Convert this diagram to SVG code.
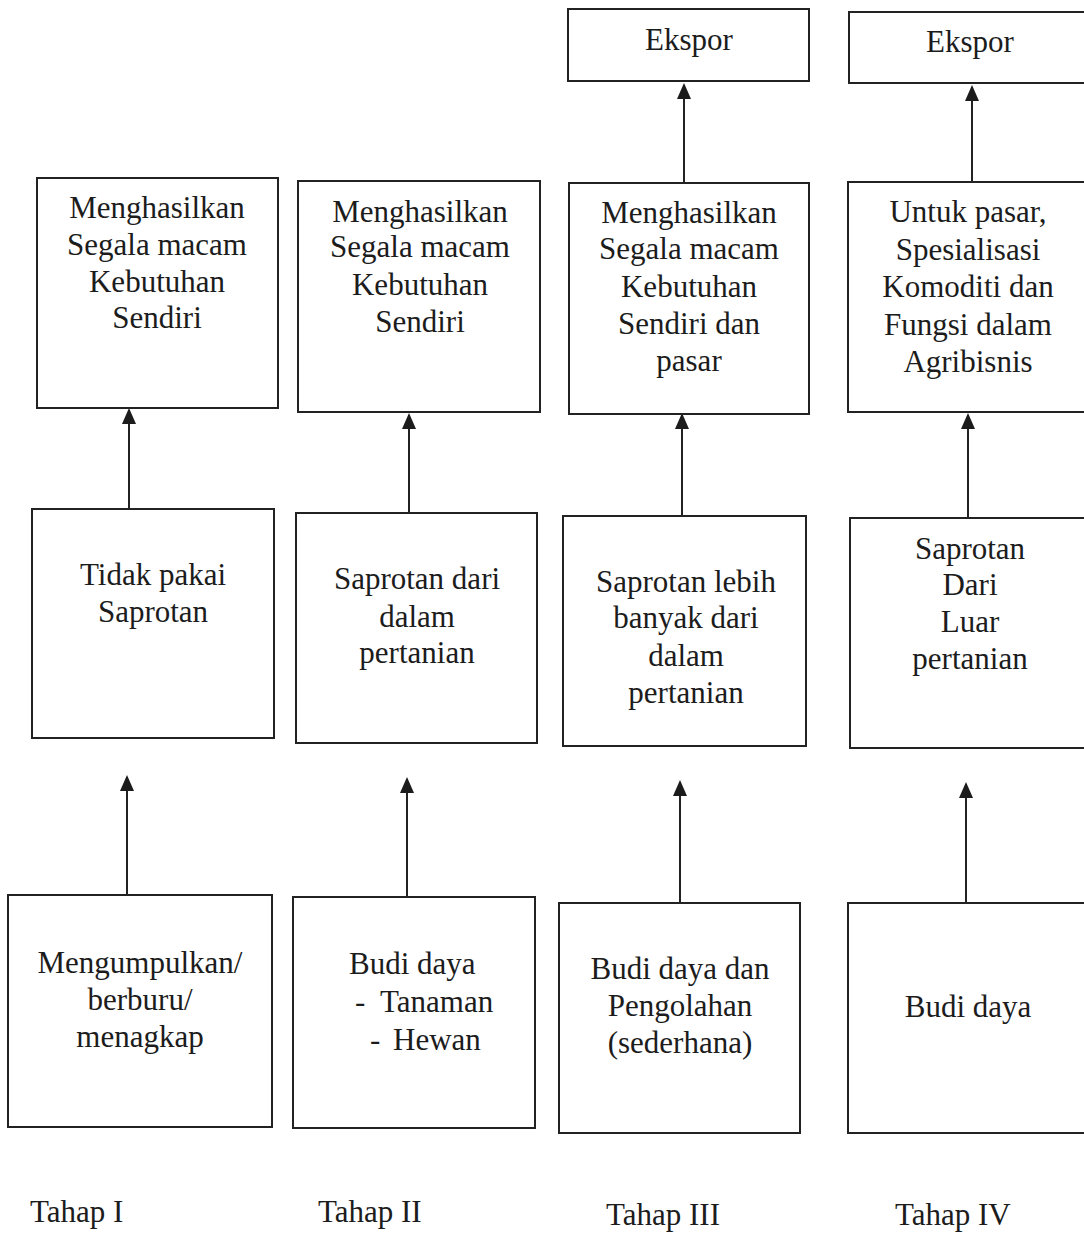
<svg xmlns="http://www.w3.org/2000/svg" width="1084" height="1234" viewBox="0 0 1084 1234">
<style>
.box{fill:#fff;stroke:#222;stroke-width:2}
.t{font-family:"Liberation Serif","Times New Roman",serif;font-size:31px;fill:#1c1c1c;text-anchor:middle}
.l{text-anchor:start}
.c{stroke:#222;stroke-width:2;fill:none;marker-end:url(#ah)}
</style>
<defs>
<marker id="ah" markerUnits="userSpaceOnUse" markerWidth="16" markerHeight="14" refX="14" refY="7" orient="auto" viewBox="0 0 16 14">
<path d="M0,0 L16,7 L0,14 z" fill="#1c1c1c"/>
</marker>
</defs>
<rect width="1084" height="1234" fill="#fff"/>

<g id="connectors">
<line class="c" x1="127" y1="895" x2="127" y2="777"/>
<line class="c" x1="129" y1="509" x2="129" y2="410"/>
<line class="c" x1="407" y1="897" x2="407" y2="779"/>
<line class="c" x1="409" y1="512" x2="409" y2="415"/>
<line class="c" x1="680" y1="903" x2="680" y2="782"/>
<line class="c" x1="682" y1="516" x2="682" y2="415"/>
<line class="c" x1="684" y1="183" x2="684" y2="85"/>
<line class="c" x1="966" y1="903" x2="966" y2="784"/>
<line class="c" x1="968" y1="518" x2="968" y2="415"/>
<line class="c" x1="972" y1="182" x2="972" y2="87"/>
</g>

<g id="c1-top">
<rect class="box" x="37" y="178" width="241" height="230"/>
<text class="t" x="157" y="218">Menghasilkan</text>
<text class="t" x="157" y="255">Segala macam</text>
<text class="t" x="157" y="292">Kebutuhan</text>
<text class="t" x="157" y="328">Sendiri</text>
</g>
<g id="c1-mid">
<rect class="box" x="32" y="509" width="242" height="229"/>
<text class="t" x="153" y="585">Tidak pakai</text>
<text class="t" x="153" y="622">Saprotan</text>
</g>
<g id="c1-bot">
<rect class="box" x="8" y="895" width="264" height="232"/>
<text class="t" x="140" y="973">Mengumpulkan/</text>
<text class="t" x="140" y="1010">berburu/</text>
<text class="t" x="140" y="1047">menagkap</text>
</g>

<g id="c2-top">
<rect class="box" x="298" y="181" width="242" height="231"/>
<text class="t" x="420" y="222">Menghasilkan</text>
<text class="t" x="420" y="257">Segala macam</text>
<text class="t" x="420" y="295">Kebutuhan</text>
<text class="t" x="420" y="332">Sendiri</text>
</g>
<g id="c2-mid">
<rect class="box" x="296" y="513" width="241" height="230"/>
<text class="t" x="417" y="589">Saprotan dari</text>
<text class="t" x="417" y="627">dalam</text>
<text class="t" x="417" y="663">pertanian</text>
</g>
<g id="c2-bot">
<rect class="box" x="293" y="897" width="242" height="231"/>
<text class="t l" x="349" y="974">Budi daya</text>
<text class="t l" y="1012"><tspan x="355">-</tspan><tspan x="380">Tanaman</tspan></text>
<text class="t l" y="1050"><tspan x="370">-</tspan><tspan x="393">Hewan</tspan></text>
</g>

<g id="c3-ekspor">
<rect class="box" x="568" y="9" width="241" height="72"/>
<text class="t" x="689" y="50">Ekspor</text>
</g>
<g id="c3-top">
<rect class="box" x="569" y="183" width="240" height="231"/>
<text class="t" x="689" y="223">Menghasilkan</text>
<text class="t" x="689" y="259">Segala macam</text>
<text class="t" x="689" y="297">Kebutuhan</text>
<text class="t" x="689" y="334">Sendiri dan</text>
<text class="t" x="689" y="371">pasar</text>
</g>
<g id="c3-mid">
<rect class="box" x="563" y="516" width="243" height="230"/>
<text class="t" x="686" y="592">Saprotan lebih</text>
<text class="t" x="686" y="628">banyak dari</text>
<text class="t" x="686" y="666">dalam</text>
<text class="t" x="686" y="703">pertanian</text>
</g>
<g id="c3-bot">
<rect class="box" x="559" y="903" width="241" height="230"/>
<text class="t" x="680" y="979">Budi daya dan</text>
<text class="t" x="680" y="1016">Pengolahan</text>
<text class="t" x="680" y="1053">(sederhana)</text>
</g>

<g id="c4-ekspor">
<rect class="box" x="849" y="12" width="245" height="71"/>
<text class="t" x="970" y="52">Ekspor</text>
</g>
<g id="c4-top">
<rect class="box" x="848" y="182" width="246" height="230"/>
<text class="t" x="968" y="222">Untuk pasar,</text>
<text class="t" x="968" y="260">Spesialisasi</text>
<text class="t" x="968" y="297">Komoditi dan</text>
<text class="t" x="968" y="335">Fungsi dalam</text>
<text class="t" x="968" y="372">Agribisnis</text>
</g>
<g id="c4-mid">
<rect class="box" x="850" y="518" width="244" height="230"/>
<text class="t" x="970" y="559">Saprotan</text>
<text class="t" x="970" y="595">Dari</text>
<text class="t" x="970" y="632">Luar</text>
<text class="t" x="970" y="669">pertanian</text>
</g>
<g id="c4-bot">
<rect class="box" x="848" y="903" width="246" height="230"/>
<text class="t" x="968" y="1017">Budi daya</text>
</g>

<g id="labels">
<text class="t l" x="30" y="1222">Tahap I</text>
<text class="t l" x="318" y="1222">Tahap II</text>
<text class="t l" x="606" y="1225">Tahap III</text>
<text class="t l" x="895" y="1225">Tahap IV</text>
</g>
</svg>
